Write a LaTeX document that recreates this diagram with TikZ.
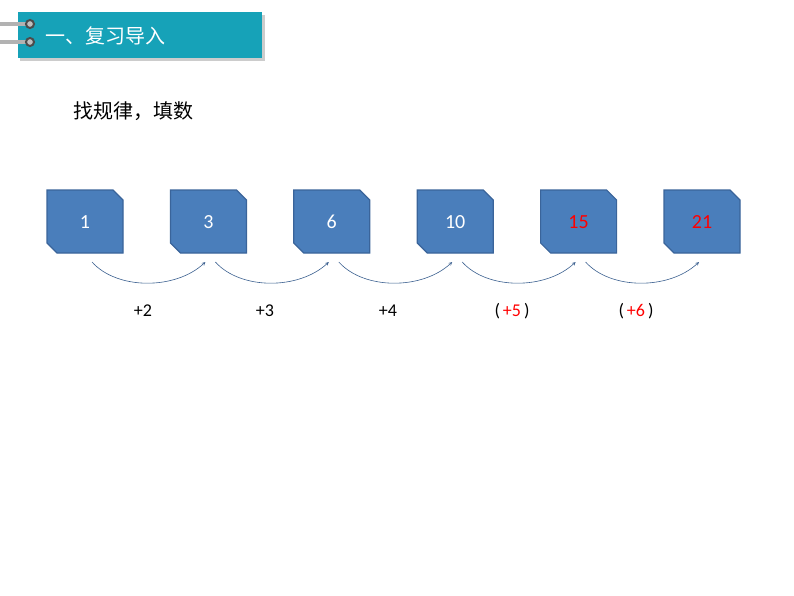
\documentclass[tikz,border=0pt]{standalone}
\usepackage{fontspec}
\usetikzlibrary{calc}
\setmainfont{Carlito}
\newfontfamily\cjk{Noto Sans CJK SC}
\definecolor{teal1}{HTML}{16A2B8}
\definecolor{boxb}{HTML}{4A7EBB}
\definecolor{boxe}{HTML}{3A649A}
\definecolor{arr}{HTML}{3A5F8F}
\begin{document}
\begin{tikzpicture}[x=1pt,y=-1pt,
  numbox/.style={draw=boxe,line width=1.2pt,fill=boxb},
  num/.style={font=\fontsize{20}{24}\selectfont},
  lab/.style={font=\fontsize{18}{22}\selectfont},
  arc/.style={->,>=stealth,draw=arr,line width=0.6pt}]
\useasboundingbox (0,0) rectangle (794,596);
% header
\fill[gray!40] (20,15) rectangle (265,61);
\fill[teal1] (18,12) rectangle (262,58);
\foreach \yy in {24,42}{
  \fill[gray!60] (0,\yy-2) rectangle (28,\yy+2);
  \draw[line width=2pt,draw=black!70,fill=gray!50] (30,\yy) circle (4);
}
\node[text=white,anchor=west,font=\cjk\fontsize{20}{24}\selectfont] (hdr) at (42,36) {一、复习导入};
\node[anchor=west,font=\cjk\fontsize{20}{24}\selectfont] (ttl) at (70,111) {找规律，填数};
% boxes
\foreach \i/\v/\c in {0/1/white,1/3/white,2/6/white,3/10/white,4/15/red,5/21/red}{
  \pgfmathsetmacro{\xl}{47+123.4*\i}
  \draw[numbox] (\xl,190) -- (\xl+66,190) -- (\xl+76,200) -- (\xl+76,253) -- (\xl+10,253) -- (\xl,243) -- cycle;
  \node[num,text=\c] (b\i) at (\xl+38,222) {\v};
  \coordinate (s\i) at (\xl+45,262);
  \coordinate (e\i) at (\xl+35,262);
}
\foreach \i/\j in {0/1,1/2,2/3,3/4,4/5}{
  \draw[arc] (s\i) .. controls ($(s\i)+(25,28)$) and ($(e\j)+(-30,28)$) .. (e\j);
}
\node[lab] (l1) at (143,311) {+2};
\node[lab] (l2) at (265,311) {+3};
\node[lab] (l3) at (388,311) {+4};
\node[lab] (l4) at (512,311) {(\,\textcolor{red}{+5}\,)};
\node[lab] (l5) at (636,311) {(\,\textcolor{red}{+6}\,)};
\end{tikzpicture}
\end{document}
